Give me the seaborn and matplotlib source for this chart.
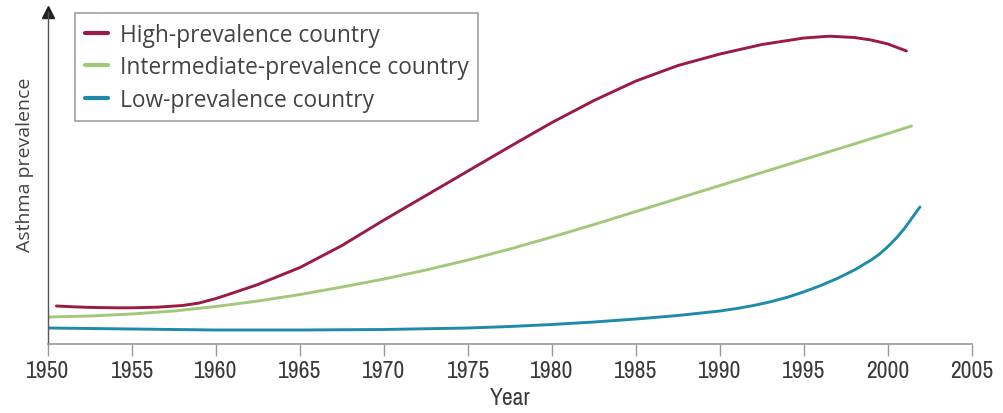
import matplotlib
matplotlib.use('Agg')
import matplotlib.pyplot as plt
from matplotlib import font_manager as fm
import seaborn as sns
import pandas as pd

# values (arbitrary prevalence units, 0 = x axis)
high_years = [1950.5, 1951.5, 1952.5, 1954, 1955, 1956.5, 1958, 1959, 1960, 1961, 1962.5,
              1965, 1967.5, 1970, 1972.5, 1975, 1977.5, 1980, 1982.5, 1985, 1987.5,
              1990, 1992.5, 1995, 1996.5, 1998, 1999, 2000, 2001.1]
high_vals = [3.8, 3.72, 3.66, 3.62, 3.62, 3.68, 3.85, 4.1, 4.55, 5.1, 5.95,
             7.65, 9.85, 12.4, 14.85, 17.3, 19.75, 22.15, 24.35, 26.3, 27.85,
             29.0, 29.95, 30.6, 30.78, 30.65, 30.4, 30.0, 29.3]

mid_years = [1950, 1952.5, 1955, 1957.5, 1960, 1962.5, 1965, 1967.5, 1970, 1972.5, 1975,
             1977.5, 1980, 1982.5, 1985, 1987.5, 1990, 1992.5, 1995, 1997.5, 2000, 2001.4]
mid_vals = [2.7, 2.8, 3.0, 3.3, 3.75, 4.3, 4.95, 5.7, 6.5, 7.4, 8.4,
            9.5, 10.7, 11.95, 13.25, 14.55, 15.85, 17.15, 18.45, 19.75, 21.05, 21.8]

low_years = [1950, 1955, 1960, 1965, 1970, 1975, 1977.5, 1980, 1982.5, 1985, 1987.5,
             1990, 1991, 1992, 1993, 1994, 1995, 1996, 1997, 1998, 1999, 1999.5,
             2000, 2000.5, 2001, 2001.3, 2001.6, 2001.9]
low_vals = [1.6, 1.5, 1.4, 1.4, 1.45, 1.6, 1.75, 1.95, 2.2, 2.5, 2.85,
            3.3, 3.55, 3.85, 4.22, 4.67, 5.22, 5.85, 6.57, 7.4, 8.4, 9.0,
            9.75, 10.6, 11.6, 12.3, 13.0, 13.7]

labels = ['High-prevalence country', 'Intermediate-prevalence country', 'Low-prevalence country']
colors = ['#9b1b42', '#a3c77b', '#1f8bab']
xticks = list(range(1950, 2006, 5))

df = pd.concat([
    pd.DataFrame({'year': high_years, 'value': high_vals, 'group': labels[0]}),
    pd.DataFrame({'year': mid_years, 'value': mid_vals, 'group': labels[1]}),
    pd.DataFrame({'year': low_years, 'value': low_vals, 'group': labels[2]}),
])

sns.set_style('white')
narrow_names = sorted({f.name for f in fm.fontManager.ttflist
                       if 'Narrow' in f.name or 'Condensed' in f.name})
if narrow_names:
    tick_font, tick_size = narrow_names[0], 17
else:
    tick_font, tick_size = 'Liberation Sans', 15
plt.rcParams['font.family'] = ['Open Sans', 'DejaVu Sans']

fig = plt.figure(figsize=(10.04, 4.14), dpi=100)
ax = fig.add_axes([48 / 1004, 69 / 414, 924 / 1004, 332 / 414])

sns.lineplot(data=df, x='year', y='value', hue='group', palette=colors,
             hue_order=labels, linewidth=2.1, ax=ax, sort=False, estimator=None)

ax.set_xlim(1950, 2005)
ax.set_ylim(0, 33.2)
ax.set_xticks(xticks)
ax.set_xticklabels([str(t) for t in xticks], fontfamily=tick_font, fontsize=tick_size, color='#3a3a3a')
ax.set_yticks([])
ax.tick_params(axis='x', length=8.5, width=1, color='#999999', pad=3, direction='out', bottom=True)

for s in ['top', 'right']:
    ax.spines[s].set_visible(False)
ax.spines['bottom'].set_color('#999999')
ax.spines['bottom'].set_linewidth(1.2)
ax.spines['left'].set_color('#555555')
ax.spines['left'].set_linewidth(1.0)
ax.plot(0, 1, marker='^', color='#222222', markersize=8, transform=ax.transAxes, clip_on=False)

ax.set_xlabel('Year', fontfamily=tick_font, fontsize=tick_size, color='#3a3a3a', labelpad=4)
ax.set_ylabel('Asthma prevalence', fontsize=14, color='#444444')
ax.yaxis.set_label_coords(-0.015, 0.542)

leg = ax.legend(loc='upper left', bbox_to_anchor=(75 / 1004, 1 - 14 / 414),
                bbox_transform=fig.transFigure, borderaxespad=0, frameon=True,
                fontsize=16.4, handlelength=1.05, handletextpad=0.5, labelspacing=0.38,
                borderpad=0.42, fancybox=False)
leg.get_frame().set_edgecolor('#888888')
leg.get_frame().set_linewidth(1.2)
for t in leg.get_texts():
    t.set_color('#444444')
for h in leg.get_lines():
    h.set_linewidth(3)

fig.savefig('out.png', dpi=100)
